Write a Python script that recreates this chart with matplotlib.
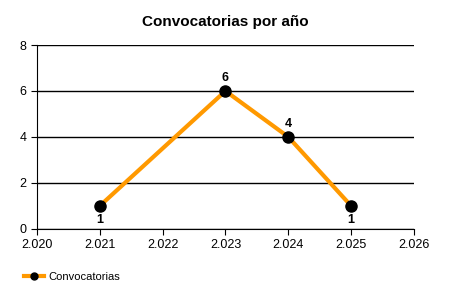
import matplotlib.pyplot as plt
from matplotlib.ticker import FuncFormatter

anios = [2021, 2023, 2024, 2025]
convocatorias = [1, 6, 4, 1]
posiciones = ['below', 'above', 'above', 'below']

plt.rcParams['font.family'] = ['Liberation Sans', 'DejaVu Sans']


def miles(x, pos):
    return '{:,.0f}'.format(x).replace(',', '.')


def main():
    fig = plt.figure(figsize=(4.5, 3), dpi=100)
    ax = fig.add_axes([0.082, 0.237, 0.838, 0.613])

    ax.plot(anios, convocatorias, '-', color='#FF9900', linewidth=3, zorder=3)
    ax.plot(anios, convocatorias, 'o', color='black', markersize=8, zorder=4,
            label='Convocatorias')

    for x, y, p in zip(anios, convocatorias, posiciones):
        off = 9 if p == 'above' else -10
        ax.annotate(str(y), (x, y), xytext=(0, off), textcoords='offset points',
                    ha='center', va='center', fontsize=9, fontweight='bold')

    ax.set_xlim(2020, 2026)
    ax.set_ylim(0, 8)
    ax.set_xticks(range(2020, 2027))
    ax.set_yticks([0, 2, 4, 6, 8])
    ax.xaxis.set_major_formatter(FuncFormatter(miles))
    ax.yaxis.grid(True, color='black', linewidth=1)
    ax.set_axisbelow(True)
    for s in ['top', 'right']:
        ax.spines[s].set_visible(False)
    ax.tick_params(labelsize=9, length=4, color='black')

    fig.suptitle('Convocatorias por año', x=0.5, y=0.95, fontsize=11,
                 fontweight='bold')

    from matplotlib.lines import Line2D
    h = Line2D([], [], color='#FF9900', linewidth=3, marker='o',
               markerfacecolor='black', markeredgecolor='black', markersize=5)
    fig.legend([h], ['Convocatorias'], loc='center left',
               bbox_to_anchor=(0.03, 0.077), frameon=False, fontsize=8,
               handlelength=1.8, handletextpad=0.4)

    fig.savefig('out.png', dpi=100)


if __name__ == "__main__":
    main()
